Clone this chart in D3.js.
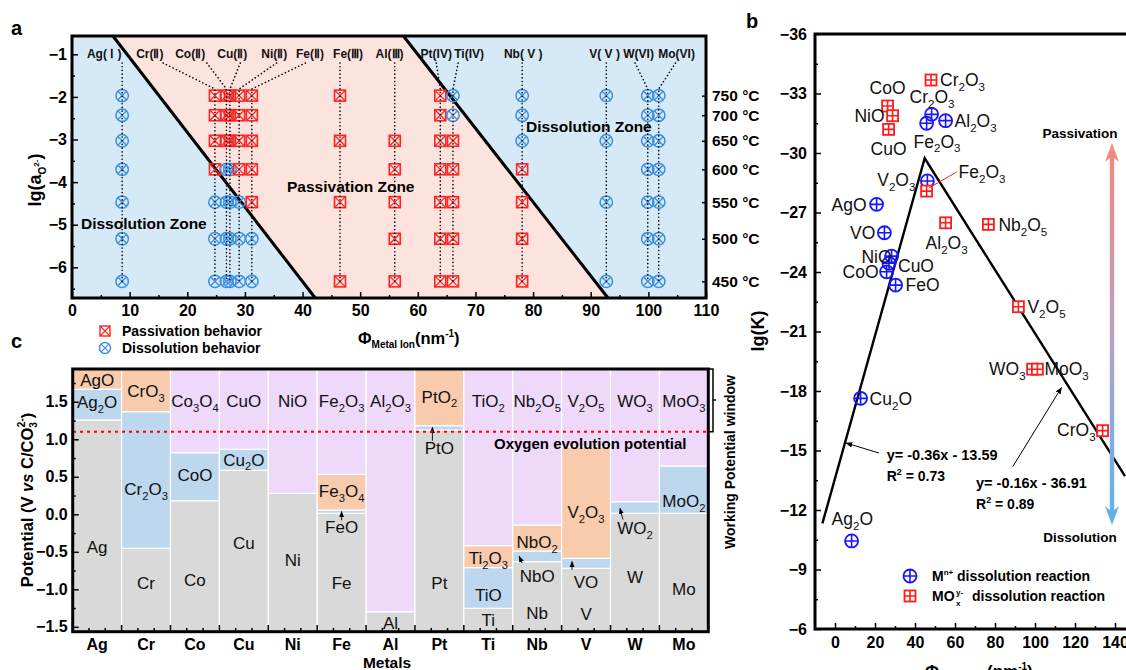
<!DOCTYPE html>
<html>
<head>
<meta charset="utf-8">
<script src="https://cdn.jsdelivr.net/npm/d3@7"></script>
<style>
body { margin: 0; background: #fff; }
text { font-family: "Liberation Sans", Arial, Helvetica, sans-serif; }
</style>
</head>
<body>
<div id="fig"></div>
<script>
// ---------- panel a data ----------
const ionNames = ['Ag( Ⅰ )','Cr(Ⅱ)','Co(Ⅱ)','Cu(Ⅱ)','Ni(Ⅱ)','Fe(Ⅱ)','Fe(Ⅲ)','Al(Ⅲ)','Pt(IV)','Ti(IV)','Nb( V )','V( V )','W(VI)','Mo(VI)'];
const ionPhi = [8.7, 24.8, 26.8, 27.4, 29.0, 31.2, 46.5, 56.0, 63.9, 66.1, 78.1, 92.7, 99.9, 101.8];
const ionLabelPhi = [5.6, 13.5, 20.5, 27.8, 35.1, 41.3, 47.9, 55.1, 63.2, 68.9, 78.3, 92.4, 98.3, 104.9];
const ionLeaderPhi = [8.7, 15.8, 23.4, 29.2, 35.5, 40.5, 46.5, 56.0, 63.2, 67.0, 78.1, 92.7, 97.7, 104.7];
const temps = ['750', '700', '650', '600', '550', '500', '450'];
const tempLgA = [-1.97, -2.43, -3.03, -3.70, -4.47, -5.33, -6.33];
// P = passivation, D = dissolution, - = not measured (rows follow temps)
const behavior = ['DDDDDDD','PPPPDDD','PPPDDDD','PPPDDDD','PPPPDDD','PPPPPDD','P-P-P-P',
                  '--PPPPP','PPPPPPP','DDPPPPP','DDDPPPP','D-D-D-D','DDDDDDD','DDDDDDD'];
const boundary1 = [[7.1, -0.57], [42.2, -6.72]];
const boundary2 = [[57.5, -0.57], [93.0, -6.72]];

// ---------- panel b data ----------
const mnNames = ['Ag2O','Cu2O','AgO','VO','NiO','CuO','CoO','FeO','V2O3','Cr2O3','Fe2O3','Al2O3'];
const mnPhi = [8.3, 12.8, 20.8, 24.7, 28.3, 27.0, 25.8, 30.3, 46.2, 48.3, 45.8, 55.3];
const mnLgK = [-10.44, -17.63, -27.41, -25.98, -24.8, -24.44, -24.01, -23.34, -28.59, -31.95, -31.5, -31.63];
const moNames = ['Cr2O3','CoO','NiO','CuO','Fe2O3','Al2O3','Nb2O5','V2O5','WO3','MoO3','CrO3'];
const moPhi = [48.0, 26.3, 28.8, 26.8, 45.8, 55.3, 76.7, 91.7, 98.8, 101.2, 133.8];
const moLgK = [-33.68, -32.37, -31.88, -31.19, -28.08, -26.48, -26.4, -22.25, -19.1, -19.1, -16.0];
const fitSlope = [-0.36, 0.16];
const fitIntercept = [-13.59, -36.91];
const fitRange = [-6.3, 145];
const fitText = ['y= -0.36x - 13.59', 'y= -0.16x - 36.91'];
const fitR2 = ['0.73', '0.89'];

// ---------- panel c data ----------
const metalsC = ['Ag','Cr','Co','Cu','Ni','Fe','Al','Pt','Ti','Nb','V','W','Mo'];
const phaseNames = [
  ['Ag','Ag2O','AgO'], ['Cr','Cr2O3','CrO3'], ['Co','CoO','Co3O4'], ['Cu','Cu2O','CuO'],
  ['Ni','NiO'], ['Fe','FeO','Fe3O4','Fe2O3'], ['Al','Al2O3'], ['Pt','PtO','PtO2'],
  ['Ti','TiO','Ti2O3','TiO2'], ['Nb','NbO','NbO2','Nb2O5'], ['V','VO','V2O3','V2O5'],
  ['W','WO2','WO3'], ['Mo','MoO2','MoO3']];
const phaseKinds = [
  ['m','b','o'], ['m','b','o'], ['m','b','p'], ['m','b','p'], ['m','p'], ['m','b','o','p'],
  ['m','p'], ['m','b','o'], ['m','b','o','p'], ['m','b','o','p'], ['m','b','o','p'],
  ['m','b','p'], ['m','b','p']];
// upper potential boundary of each phase except the topmost
const phaseTops = [
  [1.257, 1.667], [-0.453, 1.368], [0.181, 0.821], [0.587, 0.867], [0.28], [0.013, 0.057, 0.533],
  [-1.299], [1.124, 1.181], [-1.253, -0.711, -0.418], [-0.632, -0.489, -0.143], [-0.72, -0.587, 0.901],
  [0.013, 0.168], [0.013, 0.644]];
const phaseLabelV = [
  [-0.43, 1.50, 1.79], [-0.92, 0.34, 1.64], [-0.88, 0.52, 1.51], [-0.38, 0.73, 1.51], [-0.61, 1.51],
  [-0.92, -0.17, 0.31, 1.51], [-1.45, 1.51], [-0.91, 0.89, 1.57], [-1.41, -1.07, -0.58, 1.51],
  [-1.32, -0.82, -0.37, 1.51], [-1.33, -0.90, 0.03, 1.51], [-0.83, -0.18, 1.51], [-1.0, 0.18, 1.51]];
const oxygenEvolution = 1.1;
const kindColor = {m: '#d9d9d9', b: '#bdd7ee', o: '#f8cbad', p: '#eed9fb'};

const svg = d3.select('#fig').append('svg')
  .attr('width', 1126).attr('height', 670)
  .attr('viewBox', '0 0 1126 670');

// text with numeric subscripts, y = baseline
function chem(g, str, x, y, size, anchor, weight) {
  const t = g.append('text').attr('x', x).attr('y', y).attr('font-size', size)
    .attr('text-anchor', anchor || 'start').attr('font-weight', weight || 'normal').attr('fill', '#111');
  let down = false;
  str.match(/\d+|\D+/g).forEach(p => {
    const ts = t.append('tspan').text(p);
    if (/\d/.test(p)) { ts.attr('font-size', size * 0.66).attr('dy', size * 0.28); down = true; }
    else if (down) { ts.attr('dy', -size * 0.28); down = false; }
  });
  return t;
}
function styleAxis(g, size) {
  g.select('.domain').remove();
  g.selectAll('line').attr('stroke', '#000').attr('stroke-width', 1.5);
  g.selectAll('text').attr('font-size', size).attr('font-weight', 'bold').attr('fill', '#000')
    .attr('font-family', '"Liberation Sans", Arial, sans-serif');
}
const defs = svg.append('defs');
defs.append('marker').attr('id', 'ah').attr('viewBox', '0 0 10 10').attr('refX', 9).attr('refY', 5)
  .attr('markerWidth', 7).attr('markerHeight', 7).attr('orient', 'auto-start-reverse')
  .append('path').attr('d', 'M0,1 L10,5 L0,9 Z').attr('fill', '#000');

// ================= panel a =================
const xA = d3.scaleLinear([0, 110], [72, 706]);
const yA = d3.scaleLinear([-6.72, -0.57], [298, 36]);
const gA = svg.append('g');
const [a0, a1] = yA.domain();
const zoneBlue = '#d5e9f7', zonePink = '#fde3dd';
const polyA = pts => pts.map(p => [xA(p[0]), yA(p[1])]).join(' ');
gA.append('polygon').attr('points', polyA([[0, a1], boundary1[0], boundary1[1], [0, a0]])).attr('fill', zoneBlue);
gA.append('polygon').attr('points', polyA([boundary1[0], boundary2[0], boundary2[1], boundary1[1]])).attr('fill', zonePink);
gA.append('polygon').attr('points', polyA([boundary2[0], [110, a1], [110, a0], boundary2[1]])).attr('fill', zoneBlue);
[boundary1, boundary2].forEach(b => {
  gA.append('line').attr('x1', xA(b[0][0])).attr('y1', yA(b[0][1])).attr('x2', xA(b[1][0])).attr('y2', yA(b[1][1]))
    .attr('stroke', '#000').attr('stroke-width', 3);
});

// markers
const redA = '#ff2424', blueA = '#3a8fe2';
ionPhi.forEach((phi, i) => {
  behavior[i].split('').forEach((b, j) => {
    if (b === '-') return;
    const cx = xA(phi), cy = yA(tempLgA[j]);
    if (b === 'P') {
      const s = 5.5;
      gA.append('rect').attr('x', cx - s).attr('y', cy - s).attr('width', 2 * s).attr('height', 2 * s)
        .attr('fill', 'none').attr('stroke', redA).attr('stroke-width', 1.6);
      gA.append('path').attr('d', `M${cx - s},${cy - s}L${cx + s},${cy + s}M${cx + s},${cy - s}L${cx - s},${cy + s}`)
        .attr('stroke', redA).attr('stroke-width', 1.3);
    } else {
      const r = 6.2, k = r * 0.707;
      gA.append('circle').attr('cx', cx).attr('cy', cy).attr('r', r)
        .attr('fill', 'none').attr('stroke', blueA).attr('stroke-width', 1.5);
      gA.append('path').attr('d', `M${cx - k},${cy - k}L${cx + k},${cy + k}M${cx + k},${cy - k}L${cx - k},${cy + k}`)
        .attr('stroke', blueA).attr('stroke-width', 1.3);
    }
  });
});

// ion labels with dotted leaders
ionNames.forEach((nm, i) => {
  gA.append('text').attr('x', xA(ionLabelPhi[i])).attr('y', 58).attr('text-anchor', 'middle')
    .attr('font-size', 12).attr('font-weight', 'bold').attr('fill', '#111').text(nm);
  const pts = [[xA(ionLeaderPhi[i]), 63], [xA(ionPhi[i]), 89], [xA(ionPhi[i]), yA(tempLgA[6])]];
  gA.append('path').attr('d', d3.line()(pts)).attr('fill', 'none').attr('stroke', '#000')
    .attr('stroke-width', 1.6).attr('stroke-dasharray', '0.1,3.6').attr('stroke-linecap', 'round');
});

gA.append('text').attr('x', 81).attr('y', 229).attr('font-size', 15.5).attr('font-weight', 'bold').text('Dissolution Zone');
gA.append('text').attr('x', 287).attr('y', 192).attr('font-size', 15.5).attr('font-weight', 'bold').text('Passivation Zone');
gA.append('text').attr('x', 526).attr('y', 132).attr('font-size', 15.5).attr('font-weight', 'bold').text('Dissolution Zone');

// axes a
const axA1 = gA.append('g').attr('transform', 'translate(0,298)')
  .call(d3.axisBottom(xA).tickValues(d3.range(0, 111, 10)).tickSize(-6).tickPadding(7).tickFormat(d3.format('d')));
styleAxis(axA1, 16);
const axA1m = gA.append('g').attr('transform', 'translate(0,298)')
  .call(d3.axisBottom(xA).tickValues(d3.range(5, 110, 10)).tickSize(-3).tickFormat(''));
styleAxis(axA1m, 16);
const axA2 = gA.append('g').attr('transform', 'translate(72,0)')
  .call(d3.axisLeft(yA).tickValues([-1, -2, -3, -4, -5, -6]).tickSize(-6).tickPadding(5).tickFormat(d3.format('d')));
styleAxis(axA2, 16);
const axA2m = gA.append('g').attr('transform', 'translate(72,0)')
  .call(d3.axisLeft(yA).tickValues(d3.range(-6.5, -0.6, 1)).tickSize(-3).tickFormat(''));
styleAxis(axA2m, 16);
const axA3 = gA.append('g').attr('transform', 'translate(706,0)')
  .call(d3.axisRight(yA).tickValues(tempLgA).tickSize(-4).tickPadding(6).tickFormat((d, i) => temps[i] + ' °C'));
styleAxis(axA3, 15.5);
gA.append('rect').attr('x', 72).attr('y', 36).attr('width', 634).attr('height', 262)
  .attr('fill', 'none').attr('stroke', '#000').attr('stroke-width', 3);

// axis titles a
const tA = gA.append('text').attr('x', 358).attr('y', 344).attr('font-size', 16.5).attr('font-weight', 'bold');
tA.append('tspan').text('Φ');
tA.append('tspan').attr('font-size', 10).attr('dy', 4).text('Metal Ion');
tA.append('tspan').attr('dy', -4).text('(nm');
tA.append('tspan').attr('font-size', 10).attr('dy', -7).text('-1');
tA.append('tspan').attr('dy', 7).text(')');
const yTA = gA.append('text').attr('transform', 'translate(41,180) rotate(-90)').attr('text-anchor', 'middle')
  .attr('font-size', 18).attr('font-weight', 'bold');
yTA.append('tspan').text('lg(a');
yTA.append('tspan').attr('font-size', 10).attr('dy', 5).text('O');
yTA.append('tspan').attr('font-size', 8).attr('dy', -7).text('2-');
yTA.append('tspan').attr('dy', 2).text(')');

// legend a
const lgA = gA.append('g');
[['P', 'Passivation behavior', 331], ['D', 'Dissolution behavior', 348]].forEach(([b, txt, cy]) => {
  const cx = 105;
  if (b === 'P') {
    const s = 5;
    lgA.append('rect').attr('x', cx - s).attr('y', cy - s).attr('width', 2 * s).attr('height', 2 * s)
      .attr('fill', 'none').attr('stroke', redA).attr('stroke-width', 1.4);
    lgA.append('path').attr('d', `M${cx - s},${cy - s}L${cx + s},${cy + s}M${cx + s},${cy - s}L${cx - s},${cy + s}`).attr('stroke', redA).attr('stroke-width', 1.2);
  } else {
    const r = 5.5, k = r * 0.707;
    lgA.append('circle').attr('cx', cx).attr('cy', cy).attr('r', r).attr('fill', 'none').attr('stroke', blueA).attr('stroke-width', 1.4);
    lgA.append('path').attr('d', `M${cx - k},${cy - k}L${cx + k},${cy + k}M${cx + k},${cy - k}L${cx - k},${cy + k}`).attr('stroke', blueA).attr('stroke-width', 1.2);
  }
  lgA.append('text').attr('x', 122).attr('y', cy + 5).attr('font-size', 14).attr('font-weight', 'bold').text(txt);
});

// ================= panel b =================
const xB = d3.scaleLinear([-10, 146], [815, 1127]);
const yB = d3.scaleLinear([-36, -6], [34, 629]);
const gB = svg.append('g');
const blueB = '#1616ff', redB = '#ff1c1c';

// fitted lines
const apexX = (fitIntercept[1] - fitIntercept[0]) / (fitSlope[0] - fitSlope[1]);
const fitPts = [fitRange[0], apexX, fitRange[1]].map((x, i) => {
  const k = i < 2 ? 0 : 1;
  return [xB(x), yB(fitSlope[k] * x + fitIntercept[k])];
});
gB.append('path').attr('d', d3.line()(fitPts)).attr('fill', 'none').attr('stroke', '#000').attr('stroke-width', 2.4);

function circPlus(g, cx, cy, r, col) {
  g.append('circle').attr('cx', cx).attr('cy', cy).attr('r', r).attr('fill', 'none').attr('stroke', col).attr('stroke-width', 1.8);
  g.append('path').attr('d', `M${cx - r},${cy}H${cx + r}M${cx},${cy - r}V${cy + r}`).attr('stroke', col).attr('stroke-width', 1.6);
}
function sqGrid(g, cx, cy, s, col) {
  g.append('rect').attr('x', cx - s).attr('y', cy - s).attr('width', 2 * s).attr('height', 2 * s)
    .attr('fill', '#fff').attr('stroke', col).attr('stroke-width', 1.8);
  g.append('path').attr('d', `M${cx - s},${cy}H${cx + s}M${cx},${cy - s}V${cy + s}`).attr('stroke', col).attr('stroke-width', 1.6);
}
mnPhi.forEach((p, i) => circPlus(gB, xB(p), yB(mnLgK[i]), 6.5, blueB));
moPhi.forEach((p, i) => sqGrid(gB, xB(p), yB(moLgK[i]), 5.5, redB));

// compound labels: offsets from marker (px), anchor
const mnLab = [[-20, -22, 'start'], [9, 0, 'start'], [-10, 0, 'end'], [-9, 0, 'end'], [0, 1, 'end'], [9, 2, 'start'],
               [-8, 0, 'end'], [10, 0, 'start'], [-12, -1, 'end'], [-22, -18, 'start'], [-13, 18, 'start'], [9, 0, 'start']];
const moLab = [[9, 0, 'start'], [-18, -18, 'start'], [-8, 0, 'end'], [-18, 19, 'start'], [32, -19, 'start'],
               [-20, 20, 'start'], [10, 0, 'start'], [9, 0, 'start'], [-7, 0, 'end'], [7, 0, 'start'], [-7, -1, 'end']];
const fsB = 17.5;
mnNames.forEach((n, i) => chem(gB, n, xB(mnPhi[i]) + mnLab[i][0], yB(mnLgK[i]) + mnLab[i][1] + fsB * 0.36, fsB, mnLab[i][2]));
moNames.forEach((n, i) => chem(gB, n, xB(moPhi[i]) + moLab[i][0], yB(moLgK[i]) + moLab[i][1] + fsB * 0.36, fsB, moLab[i][2]));
// red leader for Fe2O3 (MOx)
gB.append('line').attr('x1', xB(moPhi[4]) + 2).attr('y1', yB(moLgK[4]) - 3)
  .attr('x2', xB(moPhi[4]) + 30).attr('y2', yB(moLgK[4]) - 19).attr('stroke', redB).attr('stroke-width', 1);

// fit annotations
const fitLab = [[886.7, 460], [976, 487.5]];
const fitArrow = [[[879, 453], [846, 443]], [[1012.7, 466.7], [1061.5, 387.5]]];
fitText.forEach((t, i) => {
  gB.append('text').attr('x', fitLab[i][0]).attr('y', fitLab[i][1]).attr('font-size', 14.5).attr('font-weight', 'bold').text(t);
  const r = gB.append('text').attr('x', fitLab[i][0]).attr('y', fitLab[i][1] + 21).attr('font-size', 14).attr('font-weight', 'bold');
  r.append('tspan').text('R');
  r.append('tspan').attr('font-size', 9).attr('dy', -6).text('2');
  r.append('tspan').attr('dy', 6).text(' = ' + fitR2[i]);
  gB.append('line').attr('x1', fitArrow[i][0][0]).attr('y1', fitArrow[i][0][1]).attr('x2', fitArrow[i][1][0]).attr('y2', fitArrow[i][1][1])
    .attr('stroke', '#000').attr('stroke-width', 1).attr('marker-end', 'url(#ah)');
});

// gradient arrow
const grad = defs.append('linearGradient').attr('id', 'pd').attr('gradientUnits', 'userSpaceOnUse')
  .attr('x1', 0).attr('y1', 143).attr('x2', 0).attr('y2', 525);
grad.append('stop').attr('offset', 0).attr('stop-color', '#f6877a');
grad.append('stop').attr('offset', 0.5).attr('stop-color', '#b7a2c4');
grad.append('stop').attr('offset', 1).attr('stop-color', '#5ab2ee');
const ax = 1112;
gB.append('path').attr('fill', 'url(#pd)')
  .attr('d', `M${ax},143 L${ax + 7},162 L${ax + 2.2},158 V510 L${ax + 7},506 L${ax},525 L${ax - 7},506 L${ax - 2.2},510 V158 L${ax - 7},162 Z`);
gB.append('text').attr('x', 1080).attr('y', 138).attr('text-anchor', 'middle').attr('font-size', 13.5).attr('font-weight', 'bold').text('Passivation');
gB.append('text').attr('x', 1080).attr('y', 542).attr('text-anchor', 'middle').attr('font-size', 13.5).attr('font-weight', 'bold').text('Dissolution');

// legend b
circPlus(gB, 910, 576, 6.5, blueB);
sqGrid(gB, 910, 596, 5.5, redB);
const l1 = gB.append('text').attr('x', 932).attr('y', 581).attr('font-size', 14).attr('font-weight', 'bold');
l1.append('tspan').text('M');
l1.append('tspan').attr('font-size', 8).attr('dy', -6).text('n+');
gB.append('text').attr('x', 957).attr('y', 581).attr('font-size', 14).attr('font-weight', 'bold').text('dissolution reaction');
gB.append('text').attr('x', 932).attr('y', 601).attr('font-size', 14).attr('font-weight', 'bold').text('MO');
gB.append('text').attr('x', 956).attr('y', 595).attr('font-size', 8).attr('font-weight', 'bold').text('y-');
gB.append('text').attr('x', 956).attr('y', 606).attr('font-size', 8).attr('font-weight', 'bold').text('x');
gB.append('text').attr('x', 972).attr('y', 601).attr('font-size', 14).attr('font-weight', 'bold').text('dissolution reaction');

// axes b
const axB1 = gB.append('g').attr('transform', 'translate(0,629)')
  .call(d3.axisBottom(xB).tickValues(d3.range(0, 141, 20)).tickSize(-6).tickPadding(8).tickFormat(d3.format('d')));
styleAxis(axB1, 16);
const axB1m = gB.append('g').attr('transform', 'translate(0,629)')
  .call(d3.axisBottom(xB).tickValues(d3.range(10, 146, 20)).tickSize(-3).tickFormat(''));
styleAxis(axB1m, 16);
const axB2 = gB.append('g').attr('transform', 'translate(815,0)')
  .call(d3.axisLeft(yB).tickValues(d3.range(-36, -5, 3)).tickSize(-6).tickPadding(8).tickFormat(d3.format('d')));
styleAxis(axB2, 16);
const axB2m = gB.append('g').attr('transform', 'translate(815,0)')
  .call(d3.axisLeft(yB).tickValues(d3.range(-34.5, -6, 3)).tickSize(-3).tickFormat(''));
styleAxis(axB2m, 16);
gB.append('path').attr('d', 'M1130,34 H815 V629 H1130').attr('fill', 'none').attr('stroke', '#000').attr('stroke-width', 3);
const tB = gB.append('text').attr('x', 925).attr('y', 677).attr('font-size', 17).attr('font-weight', 'bold');
tB.append('tspan').text('Φ');
tB.append('tspan').attr('font-size', 10).attr('dy', 4).text('Metal Ion');
tB.append('tspan').attr('dy', -4).text(' (nm');
tB.append('tspan').attr('font-size', 10).attr('dy', -7).text('-1');
tB.append('tspan').attr('dy', 7).text(')');
gB.append('text').attr('transform', 'translate(764,331) rotate(-90)').attr('text-anchor', 'middle')
  .attr('font-size', 18).attr('font-weight', 'bold').text('lg(K)');

// ================= panel c =================
const xC = d3.scaleBand(metalsC, [72.7, 708.3]);
const yC = d3.scaleLinear([-1.565, 1.937], [631.7, 369]);
const gC = svg.append('g');
const [c0, c1] = yC.domain();
metalsC.forEach((m, i) => {
  const bounds = [c0, ...phaseTops[i], c1];
  phaseNames[i].forEach((ph, j) => {
    gC.append('rect').attr('x', xC(m)).attr('width', xC.bandwidth())
      .attr('y', yC(bounds[j + 1])).attr('height', yC(bounds[j]) - yC(bounds[j + 1]))
      .attr('fill', kindColor[phaseKinds[i][j]]).attr('stroke', '#fff').attr('stroke-width', 1.2);
  });
});
const fsC = 17;
metalsC.forEach((m, i) => {
  phaseNames[i].forEach((ph, j) => {
    chem(gC, ph, xC(m) + xC.bandwidth() / 2, yC(phaseLabelV[i][j]) + fsC * 0.36, fsC, 'middle');
  });
});
// small arrows to thin layers: [metal, dx(px), fromV, toV]
const thinArrows = [['Fe', 0, -0.08, 0.035], ['Pt', -7, 0.98, 1.16], ['Nb', -18, -0.65, -0.56],
                    ['V', -14, -0.74, -0.63], ['W', -15, -0.07, 0.08]];
thinArrows.forEach(([m, dx, v1, v2]) => {
  const x = xC(m) + xC.bandwidth() / 2 + dx;
  gC.append('line').attr('x1', x + (m === 'W' || m === 'Nb' ? 3 : 0)).attr('y1', yC(v1)).attr('x2', x).attr('y2', yC(v2))
    .attr('stroke', '#000').attr('stroke-width', 0.9).attr('marker-end', 'url(#ah)');
});
// oxygen evolution line
gC.append('line').attr('x1', 73).attr('x2', 706).attr('y1', yC(oxygenEvolution)).attr('y2', yC(oxygenEvolution))
  .attr('stroke', '#ff0000').attr('stroke-width', 2).attr('stroke-dasharray', '3,4');
gC.append('text').attr('x', 494).attr('y', 449).attr('font-size', 15).attr('font-weight', 'bold').text('Oxygen evolution potential');

// axes c
const axC1 = gC.append('g').attr('transform', 'translate(72.7,0)')
  .call(d3.axisLeft(yC).tickValues(d3.range(-1.5, 1.6, 0.5)).tickSize(-6).tickPadding(5).tickFormat(d3.format('.1f')));
styleAxis(axC1, 16);
const axC1m = gC.append('g').attr('transform', 'translate(72.7,0)')
  .call(d3.axisLeft(yC).tickValues(d3.range(-1.25, 1.9, 0.5)).tickSize(-3).tickFormat(''));
styleAxis(axC1m, 16);
const axC2 = gC.append('g').attr('transform', 'translate(0,631.7)')
  .call(d3.axisBottom(xC).tickSize(0).tickPadding(7));
styleAxis(axC2, 16);
const thirds = d3.range(0, 40).map(k => 72.7 + k * xC.bandwidth() / 3).filter(v => v < 708);
gC.append('g').selectAll('line').data(thirds).join('line')
  .attr('x1', d => d).attr('x2', d => d).attr('y1', 631.7).attr('y2', (d, k) => k % 3 === 0 ? 625 : 628)
  .attr('stroke', '#000').attr('stroke-width', 1.5);
gC.append('rect').attr('x', 72.7).attr('y', 369).attr('width', 635.6).attr('height', 262.7)
  .attr('fill', 'none').attr('stroke', '#000').attr('stroke-width', 3);
gC.append('text').attr('x', 387).attr('y', 668).attr('text-anchor', 'middle').attr('font-size', 15.5).attr('font-weight', 'bold').text('Metals');
const yTC = gC.append('text').attr('transform', 'translate(33,500) rotate(-90)').attr('text-anchor', 'middle')
  .attr('font-size', 16.5).attr('font-weight', 'bold');
yTC.append('tspan').text('Potential (V ');
yTC.append('tspan').attr('font-style', 'italic').text('vs');
yTC.append('tspan').text(' C/CO');
yTC.append('tspan').attr('font-size', 10).attr('dy', 4).text('3');
yTC.append('tspan').attr('font-size', 10).attr('dy', -12).attr('dx', -5).text('2-');
yTC.append('tspan').attr('dy', 8).text(')');

// working potential window bracket
gC.append('path').attr('d', `M708,369 H713 V${yC(oxygenEvolution)} H708 M713,400 H716`)
  .attr('fill', 'none').attr('stroke', '#000').attr('stroke-width', 1.5);
gC.append('text').attr('transform', 'translate(735,462) rotate(-90)').attr('text-anchor', 'middle')
  .attr('font-size', 14).attr('font-weight', 'bold').text('Working Potential window');

// panel letters
svg.append('text').attr('x', 11).attr('y', 35).attr('font-size', 20).attr('font-weight', 'bold').text('a');
svg.append('text').attr('x', 746).attr('y', 28).attr('font-size', 20).attr('font-weight', 'bold').text('b');
svg.append('text').attr('x', 11).attr('y', 348).attr('font-size', 20).attr('font-weight', 'bold').text('c');
</script>
</body>
</html>
